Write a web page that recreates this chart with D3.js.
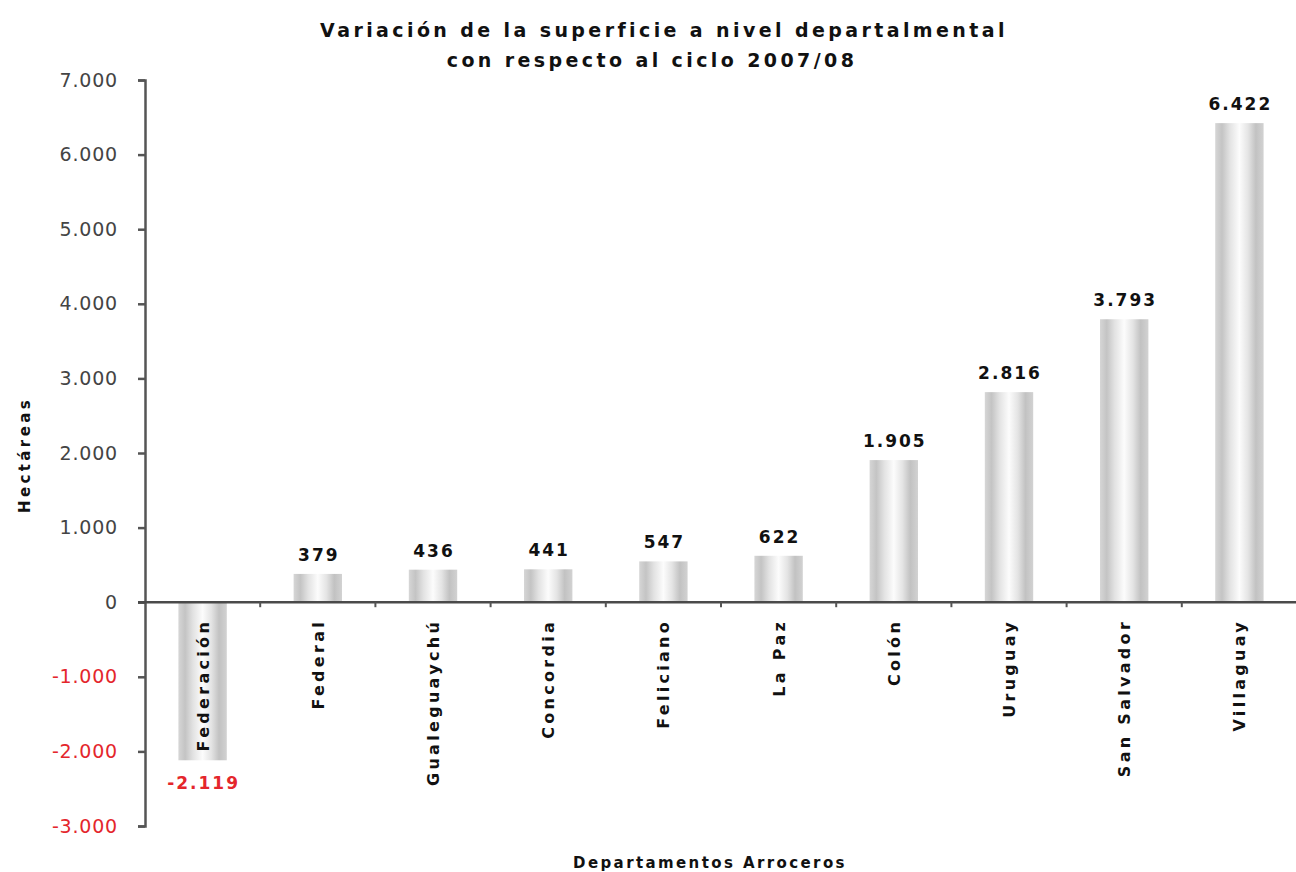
<!DOCTYPE html>
<html><head><meta charset="utf-8">
<script src="https://cdn.jsdelivr.net/npm/d3@7"></script>
<style>body{margin:0;background:#fff}svg{display:block}</style>
</head><body>
<svg id="c" width="1296" height="872"></svg>
<script>
const categories = ["Federación","Federal","Gualeguaychú","Concordia","Feliciano","La Paz","Colón","Uruguay","San Salvador","Villaguay"];
const values = [-2119,379,436,441,547,622,1905,2816,3793,6422];
const valueLabels = ["-2.119","379","436","441","547","622","1.905","2.816","3.793","6.422"];
const yTicks = [-3000,-2000,-1000,0,1000,2000,3000,4000,5000,6000,7000];
const yTickLabels = ["-3.000","-2.000","-1.000","0","1.000","2.000","3.000","4.000","5.000","6.000","7.000"];

(function(){
const svg = d3.select("#c");
const font = "DejaVu Sans, Verdana, sans-serif";
const mLeft = 145, mRight = 1297, mTop = 80, mBottom = 826;
const y = d3.scaleLinear().domain([-3000,7000]).range([mBottom, mTop]);
const x = d3.scaleBand().domain(categories).range([mLeft, mRight]).paddingInner(0.58).paddingOuter(0.29);

const defs = svg.append("defs");
const g = defs.append("linearGradient").attr("id","bg").attr("x1","0").attr("x2","1").attr("y1","0").attr("y2","0");
[[0,"#d6d6d6"],[0.14,"#c4c4c4"],[0.3,"#e2e2e2"],[0.5,"#fcfcfc"],[0.68,"#e4e4e4"],[0.84,"#c2c2c2"],[1,"#d2d2d2"]]
  .forEach(s=>g.append("stop").attr("offset",s[0]).attr("stop-color",s[1]));

svg.selectAll("rect.bar").data(values).join("rect").attr("class","bar")
  .attr("x",(d,i)=>x(categories[i]))
  .attr("width",x.bandwidth())
  .attr("y",d=>y(Math.max(0,d)))
  .attr("height",d=>Math.abs(y(d)-y(0)))
  .attr("fill","url(#bg)");

const yAxis = d3.axisLeft(y).tickValues(yTicks).tickFormat((d,i)=>yTickLabels[i]).tickSize(7).tickPadding(20);
const ya = svg.append("g").attr("transform",`translate(${mLeft},0)`).call(yAxis);
ya.select(".domain").attr("stroke","#555").attr("stroke-width",2.5);
ya.selectAll(".tick line").attr("stroke","#555").attr("stroke-width",2.5);
ya.selectAll(".tick text").attr("font-family",font).attr("font-size",19).attr("letter-spacing",0.8)
  .attr("fill",d=>d<0?"#e4262c":"#444");

const xa = svg.append("g").attr("transform",`translate(0,${y(0)})`);
xa.append("line").attr("x1",mLeft-7).attr("x2",mRight).attr("stroke","#4a4a4a").attr("stroke-width",2.5);
const step = x.step();
const boundaries = d3.range(1,categories.length).map(i=>mLeft+i*step);
xa.selectAll("line.tk").data(boundaries).join("line").attr("class","tk")
  .attr("x1",d=>d).attr("x2",d=>d).attr("y1",0).attr("y2",5).attr("stroke","#555").attr("stroke-width",2);

const catLs = 3.3;
svg.selectAll("text.cat").data(categories).join("text").attr("class","cat")
  .attr("transform",d=>`translate(${x(d)+x.bandwidth()/2+6},${y(0)+20-catLs}) rotate(-90)`)
  .attr("text-anchor","end").attr("font-family",font).attr("font-weight","bold").attr("font-size",16)
  .attr("letter-spacing",catLs).attr("fill","#111").text(d=>d);

svg.selectAll("text.val").data(values).join("text").attr("class","val")
  .attr("x",(d,i)=>x(categories[i])+x.bandwidth()/2+1)
  .attr("y",d=>d<0?y(d)+29:y(d)-13)
  .attr("text-anchor","middle").attr("font-family",font).attr("font-weight","bold").attr("font-size",17)
  .attr("letter-spacing",2).attr("fill",d=>d<0?"#e4262c":"#111").text((d,i)=>valueLabels[i]);

svg.append("text").attr("x",664).attr("y",37).attr("text-anchor","middle").attr("font-family",font)
  .attr("font-weight","bold").attr("font-size",19).attr("letter-spacing",3.4).attr("fill","#111")
  .text("Variación de la superficie a nivel departalmental");
svg.append("text").attr("x",652).attr("y",67).attr("text-anchor","middle").attr("font-family",font)
  .attr("font-weight","bold").attr("font-size",19).attr("letter-spacing",3.4).attr("fill","#111")
  .text("con respecto al ciclo 2007/08");
svg.append("text").attr("transform","translate(30,455) rotate(-90)").attr("text-anchor","middle").attr("font-family",font)
  .attr("font-weight","bold").attr("font-size",15).attr("letter-spacing",3.4).attr("fill","#111").text("Hectáreas");
svg.append("text").attr("x",710).attr("y",868).attr("text-anchor","middle").attr("font-family",font)
  .attr("font-weight","bold").attr("font-size",15).attr("letter-spacing",2.4).attr("fill","#111").text("Departamentos Arroceros");
})();
</script>
</body></html>
